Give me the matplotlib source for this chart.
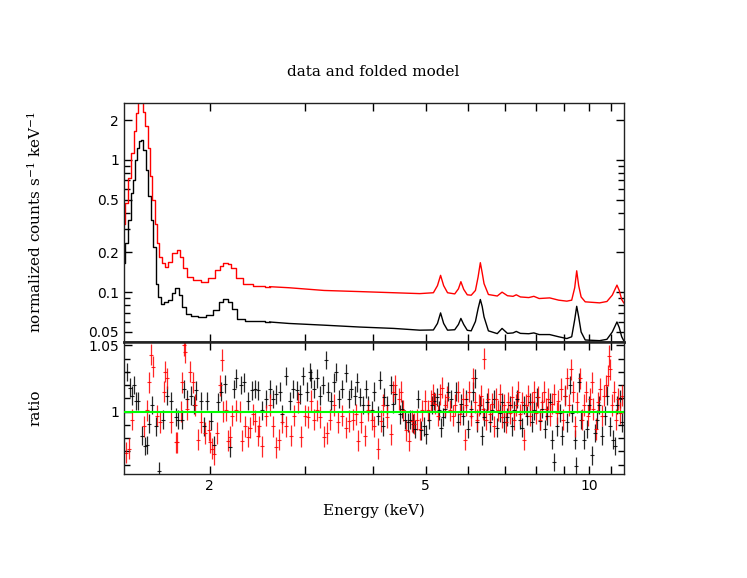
import matplotlib
matplotlib.use("Agg")
import numpy as np
import matplotlib.pyplot as plt

# folded spectra, normalized counts s^-1 keV^-1
black_energy = [1.39, 1.407, 1.423, 1.436, 1.45, 1.463, 1.476, 1.49, 1.501, 1.517,
                1.532, 1.551, 1.565, 1.582, 1.596, 1.612, 1.635, 1.66, 1.688, 1.714,
                1.743, 1.761, 1.788, 1.829, 1.87, 1.93, 2.0, 2.06, 2.10, 2.14,
                2.177, 2.22, 2.28, 2.37, 2.473, 2.58, 2.8, 3.25, 3.78, 4.37,
                4.88, 5.17, 5.26, 5.33, 5.40, 5.49, 5.66, 5.75, 5.81, 5.88,
                5.97, 6.07, 6.18, 6.25, 6.31, 6.36, 6.41, 6.53, 6.78, 6.92,
                7.08, 7.25, 7.35, 7.48, 7.75, 7.92, 8.1, 8.47, 8.8, 9.11,
                9.30, 9.42, 9.50, 9.58, 9.68, 9.85, 10.47, 10.8, 11.05, 11.27,
                11.38, 11.5, 11.6]
black_counts = [0.165, 0.234, 0.35, 0.56, 0.705, 1.0, 1.23, 1.40, 1.42, 1.19,
                0.84, 0.53, 0.35, 0.22, 0.116, 0.092, 0.082, 0.084, 0.087, 0.098,
                0.107, 0.095, 0.0775, 0.0688, 0.066, 0.065, 0.0669, 0.0731, 0.084, 0.089,
                0.084, 0.075, 0.063, 0.061, 0.0607, 0.0595, 0.058, 0.0563, 0.0545, 0.0532,
                0.0516, 0.0518, 0.058, 0.0697, 0.058, 0.0516, 0.052, 0.057, 0.0633, 0.057,
                0.0515, 0.051, 0.06, 0.075, 0.088, 0.078, 0.065, 0.051, 0.0486, 0.0532,
                0.0488, 0.0492, 0.0505, 0.0488, 0.0485, 0.0492, 0.0478, 0.0478, 0.046, 0.0446,
                0.046, 0.062, 0.0782, 0.065, 0.050, 0.0435, 0.043, 0.044, 0.05, 0.0595,
                0.054, 0.046, 0.043]

red_energy = [1.39, 1.407, 1.425, 1.44, 1.455, 1.47, 1.483, 1.50, 1.51, 1.53,
              1.548, 1.563, 1.574, 1.592, 1.607, 1.623, 1.64, 1.664, 1.688, 1.725,
              1.75, 1.776, 1.80, 1.838, 1.89, 1.96, 2.014, 2.07, 2.10, 2.14,
              2.177, 2.20, 2.271, 2.33, 2.473, 2.58, 2.8, 3.25, 3.78, 4.37,
              4.88, 5.17, 5.26, 5.33, 5.40, 5.49, 5.66, 5.75, 5.81, 5.88,
              5.97, 6.07, 6.18, 6.25, 6.31, 6.36, 6.41, 6.53, 6.78, 6.92,
              7.08, 7.25, 7.35, 7.48, 7.75, 7.92, 8.1, 8.47, 8.8, 9.11,
              9.30, 9.42, 9.50, 9.58, 9.68, 9.85, 10.47, 10.8, 11.05, 11.27,
              11.38, 11.5, 11.6]
red_counts = [0.33, 0.47, 0.73, 1.13, 1.64, 2.26, 2.8, 2.9, 2.32, 1.79,
              1.23, 0.75, 0.50, 0.33, 0.234, 0.185, 0.165, 0.155, 0.17, 0.196,
              0.208, 0.185, 0.151, 0.131, 0.123, 0.12, 0.127, 0.147, 0.158, 0.165,
              0.162, 0.151, 0.127, 0.116, 0.112, 0.11, 0.108, 0.103, 0.101, 0.099,
              0.0975, 0.099, 0.112, 0.134, 0.112, 0.099, 0.097, 0.106, 0.12, 0.105,
              0.0955, 0.0948, 0.103, 0.13, 0.167, 0.14, 0.116, 0.096, 0.0935, 0.100,
              0.094, 0.093, 0.0955, 0.092, 0.091, 0.093, 0.0895, 0.0905, 0.087, 0.0855,
              0.087, 0.108, 0.145, 0.112, 0.092, 0.0845, 0.083, 0.085, 0.095, 0.113,
              0.103, 0.088, 0.083]

# data / model ratio
black_ratio_energy = [1.41, 1.425, 1.44, 1.45, 1.46, 1.475, 1.50, 1.52, 1.53, 1.545,
                      1.565, 1.59, 1.61, 1.64, 1.67, 1.70, 1.73, 1.75, 1.78, 1.79,
                      1.82, 1.85, 1.87, 1.89, 1.93, 1.95, 1.98, 2.015, 2.04, 2.07,
                      2.10, 2.13, 2.18, 2.22, 2.24, 2.28, 2.31, 2.35, 2.39, 2.42,
                      2.46, 2.50, 2.54, 2.58, 2.62, 2.65, 2.69, 2.72, 2.76, 2.81,
                      2.85, 2.90, 2.93, 2.97, 3.02, 3.06, 3.08, 3.12, 3.16, 3.19,
                      3.23, 3.28, 3.31, 3.35, 3.39, 3.42, 3.47, 3.51, 3.57, 3.61,
                      3.65, 3.70, 3.74, 3.78, 3.83, 3.89, 3.92, 3.98, 4.02, 4.08,
                      4.13, 4.17, 4.20, 4.25, 4.31, 4.35, 4.40, 4.48, 4.52, 4.58,
                      4.64, 4.69, 4.74, 4.79, 4.84, 4.90, 4.97, 5.02, 5.07, 5.13,
                      5.18, 5.24, 5.29, 5.33, 5.38, 5.44, 5.50, 5.58, 5.69, 5.75,
                      5.81, 5.87, 5.93, 5.99, 6.06, 6.12, 6.17, 6.23, 6.30, 6.36,
                      6.42, 6.49, 6.57, 6.63, 6.70, 6.77, 6.85, 6.92, 6.99, 7.07,
                      7.15, 7.22, 7.29, 7.37, 7.46, 7.53, 7.61, 7.70, 7.79, 7.86,
                      7.94, 8.03, 8.12, 8.20, 8.29, 8.38, 8.48, 8.56, 8.62, 8.73,
                      8.84, 8.93, 9.03, 9.13, 9.22, 9.31, 9.42, 9.48, 9.58, 9.69,
                      9.80, 9.91, 10.0, 10.13, 10.25, 10.36, 10.46, 10.58, 10.71, 10.82,
                      10.92, 11.06, 11.19, 11.29, 11.40, 11.53]
black_ratio = [1.030, 1.018, 1.012, 1.020, 1.008, 1.008, 0.982, 0.974, 0.975, 0.991,
               1.005, 0.989, 0.955, 0.994, 1.012, 1.008, 0.996, 0.994, 0.994, 1.017,
               1.0096, 1.012, 1.005, 1.016, 1.008, 0.989, 1.008, 0.993, 0.975, 1.007,
               1.015, 1.021, 0.973, 1.017, 1.025, 1.020, 1.022, 1.008, 1.016, 1.017,
               1.016, 1.001, 1.0096, 1.017, 1.0096, 1.013, 1.015, 0.998, 1.027, 1.008,
               1.017, 1.016, 1.013, 1.027, 1.015, 1.030, 1.025, 1.017, 1.025, 1.012,
               1.020, 1.039, 1.015, 1.008, 1.022, 1.030, 1.0096, 1.017, 1.029, 1.0096,
               1.017, 1.012, 1.022, 1.011, 1.005, 1.017, 1.005, 1.001, 1.015, 0.997,
               1.024, 0.989, 1.011, 1.005, 1.020, 1.006, 1.013, 0.998, 1.002, 0.994,
               0.992, 0.994, 0.991, 0.987, 1.0096, 0.986, 0.989, 0.983, 0.994, 1.005,
               1.008, 1.011, 1.001, 0.988, 0.996, 1.002, 1.015, 1.0096, 1.015, 0.992,
               1.006, 0.997, 1.0096, 0.987, 1.002, 1.015, 1.025, 0.992, 1.005, 0.982,
               0.996, 1.007, 0.992, 1.001, 1.0096, 0.988, 0.999, 1.007, 0.992, 0.996,
               1.005, 0.989, 1.001, 1.0096, 0.994, 0.988, 1.005, 0.997, 1.007, 0.992,
               1.001, 1.011, 0.993, 1.002, 0.987, 0.997, 1.007, 0.979, 0.962, 0.989,
               0.999, 0.982, 1.012, 0.992, 1.020, 0.999, 0.979, 0.959, 1.022, 0.994,
               0.979, 0.987, 1.005, 0.967, 0.984, 0.994, 1.005, 0.982, 0.997, 1.012,
               0.989, 0.979, 0.974, 1.005, 1.0096, 0.992]

red_ratio_energy = [1.40, 1.42, 1.435, 1.51, 1.53, 1.545, 1.56, 1.57, 1.60, 1.62,
                    1.645, 1.655, 1.67, 1.70, 1.73, 1.74, 1.77, 1.78, 1.79, 1.80,
                    1.82, 1.84, 1.86, 1.88, 1.90, 1.93, 1.96, 1.99, 2.0, 2.02,
                    2.04, 2.06, 2.09, 2.11, 2.12, 2.14, 2.16, 2.18, 2.20, 2.24,
                    2.27, 2.29, 2.32, 2.35, 2.37, 2.40, 2.42, 2.45, 2.47, 2.50,
                    2.54, 2.58, 2.62, 2.65, 2.68, 2.72, 2.76, 2.82, 2.86, 2.91,
                    2.95, 3.0, 3.04, 3.07, 3.12, 3.16, 3.20, 3.25, 3.29, 3.34,
                    3.39, 3.45, 3.51, 3.57, 3.62, 3.67, 3.72, 3.76, 3.80, 3.86,
                    3.91, 3.98, 4.02, 4.08, 4.14, 4.18, 4.24, 4.31, 4.36, 4.40,
                    4.46, 4.51, 4.55, 4.60, 4.67, 4.72, 4.77, 4.83, 4.88, 4.92,
                    4.98, 5.05, 5.11, 5.16, 5.21, 5.27, 5.32, 5.36, 5.42, 5.48,
                    5.54, 5.61, 5.67, 5.73, 5.79, 5.85, 5.90, 5.95, 6.02, 6.06,
                    6.11, 6.17, 6.21, 6.27, 6.32, 6.37, 6.41, 6.47, 6.52, 6.58,
                    6.63, 6.69, 6.74, 6.80, 6.86, 6.92, 6.98, 7.04, 7.10, 7.16,
                    7.22, 7.28, 7.34, 7.40, 7.46, 7.53, 7.59, 7.66, 7.72, 7.79,
                    7.86, 7.93, 7.99, 8.06, 8.13, 8.20, 8.27, 8.34, 8.42, 8.49,
                    8.56, 8.64, 8.72, 8.79, 8.87, 8.95, 9.03, 9.11, 9.19, 9.28,
                    9.36, 9.45, 9.53, 9.62, 9.70, 9.78, 9.87, 9.95, 10.04, 10.12,
                    10.20, 10.29, 10.38, 10.47, 10.56, 10.65, 10.74, 10.83, 10.89, 10.96,
                    11.05, 11.14, 11.24, 11.33, 11.42, 11.52]
red_ratio = [0.969, 0.972, 0.994, 0.989, 1.001, 1.022, 1.043, 1.034, 0.997, 0.992,
             1.015, 1.030, 1.025, 0.992, 0.977, 0.977, 1.0, 1.022, 1.050, 1.045,
             1.002, 1.030, 1.022, 1.005, 0.979, 0.992, 0.984, 0.986, 0.977, 0.972,
             0.968, 0.984, 1.020, 1.039, 1.0, 1.001, 0.978, 0.981, 0.997, 1.001,
             1.0, 0.978, 0.989, 0.981, 0.988, 0.998, 0.993, 0.982, 0.989, 0.974,
             0.997, 1.005, 0.989, 0.973, 0.979, 0.992, 0.989, 0.982, 0.997, 1.007,
             0.981, 0.997, 0.996, 1.008, 0.994, 1.001, 0.996, 0.981, 0.984, 0.994,
             1.005, 0.992, 0.997, 0.988, 0.993, 0.994, 0.998, 0.978, 0.992, 0.982,
             1.001, 0.994, 0.989, 0.972, 0.993, 1.005, 0.996, 0.983, 1.015, 1.020,
             1.0096, 1.015, 1.001, 0.986, 0.978, 0.993, 0.991, 0.994, 0.987, 1.001,
             1.008, 1.001, 1.008, 1.013, 1.006, 0.997, 1.013, 1.018, 1.005, 1.011,
             1.001, 0.997, 1.005, 1.015, 0.998, 1.0096, 0.979, 1.005, 1.015, 0.997,
             1.025, 1.007, 0.994, 1.005, 1.012, 1.002, 1.040, 0.994, 1.0096, 0.998,
             1.006, 0.989, 1.0096, 1.001, 1.013, 0.996, 1.005, 0.992, 1.007, 0.999,
             1.011, 0.994, 1.005, 1.015, 0.998, 1.007, 0.979, 1.005, 1.012, 0.997,
             1.007, 1.015, 0.999, 1.011, 0.994, 1.007, 1.015, 1.002, 1.0096, 0.997,
             1.006, 1.013, 0.999, 1.008, 1.017, 0.994, 1.012, 1.025, 1.005, 1.032,
             1.015, 0.989, 1.007, 1.025, 0.994, 1.005, 1.015, 0.997, 1.0096, 1.022,
             1.002, 0.987, 1.007, 1.017, 0.997, 1.012, 1.020, 1.027, 1.042, 1.032,
             1.005, 1.015, 0.994, 1.0096, 0.999, 1.012]

black_ratio_err = 0.007
red_ratio_err = 0.008

# wide bins are drawn as steps below this energy, finely binned part as a line
step_limit = 2.6

x_ticks = [2, 3, 4, 5, 6, 7, 8, 9, 10, 11]
x_tick_labels = ["2", "", "", "5", "", "", "", "", "10", ""]
top_labels = [0.05, 0.1, 0.2, 0.5, 1, 2]

plt.rcParams["mathtext.fontset"] = "dejavuserif"
serif = "DejaVu Serif"

fig = plt.figure(figsize=(7.47, 5.78), dpi=100)
ax1 = fig.add_axes([0.166, 0.4083, 0.669, 0.4135])
ax2 = fig.add_axes([0.166, 0.1799, 0.669, 0.2284], sharex=ax1)

for energy, counts, col in ((black_energy, black_counts, "black"),
                            (red_energy, red_counts, "red")):
    e = np.array(energy)
    c = np.array(counts)
    lo = e <= step_limit
    hi = e >= e[lo][-1]
    ax1.plot(e[lo], c[lo], color=col, lw=1.0, drawstyle="steps-mid")
    ax1.plot(e[hi], c[hi], color=col, lw=1.0)

ax1.set_xscale("log")
ax1.set_yscale("log")
ax1.set_xlim(1.39, 11.6)
ax1.set_ylim(0.042, 2.69)
ax1.set_yticks(top_labels)
ax1.set_yticklabels(["0.05", "0.1", "0.2", "0.5", "1", "2"])
minor_y = [0.06, 0.07, 0.08, 0.09, 0.3, 0.4, 0.6, 0.7, 0.8, 0.9]
ax1.set_yticks(minor_y, minor=True)
ax1.yaxis.set_minor_formatter(plt.NullFormatter())

ax2.errorbar(black_ratio_energy, black_ratio, yerr=black_ratio_err, fmt="_",
             color="black", ecolor="black", elinewidth=0.9, ms=2.5, mew=0.8,
             alpha=0.85)
ax2.errorbar(red_ratio_energy, red_ratio, yerr=red_ratio_err, fmt="_",
             color="red", ecolor="red", elinewidth=0.9, ms=2.5, mew=0.8,
             alpha=0.85)
ax2.axhline(1.0, color="#00ff00", lw=1.5, zorder=5)
ax2.set_ylim(0.953, 1.0525)
ax2.set_yticks([1.0, 1.05])
ax2.set_yticklabels(["1", "1.05"])
ax2.set_yticks([0.96, 0.97, 0.98, 0.99, 1.01, 1.02, 1.03, 1.04], minor=True)

for ax in (ax1, ax2):
    ax.set_xticks(x_ticks)
    ax.set_xticks([], minor=True)
    ax.tick_params(which="both", direction="in", top=True, right=True,
                   labelsize=10, width=1.0)
    ax.tick_params(which="major", length=6)
    ax.tick_params(which="minor", length=4)
    for s in ax.spines.values():
        s.set_linewidth(1.0)
        s.set_color("#222222")

ax2.set_xticklabels(x_tick_labels)
ax1.tick_params(labelbottom=False)
ax1.spines["bottom"].set_linewidth(1.8)
ax2.spines["top"].set_linewidth(1.8)
ax2.set_xlim(1.39, 11.6)

fig.text(0.5, 0.875, "data and folded model", ha="center", va="center",
         family=serif, fontsize=11)
fig.text(0.047, 0.616, r"normalized counts s$^{-1}$ keV$^{-1}$", rotation=90,
         ha="center", va="center", family=serif, fontsize=11)
fig.text(0.047, 0.294, "ratio", rotation=90, ha="center", va="center",
         family=serif, fontsize=11)
fig.text(0.5, 0.117, "Energy (keV)", ha="center", va="center",
         family=serif, fontsize=11)

fig.savefig("out.png", dpi=100)
